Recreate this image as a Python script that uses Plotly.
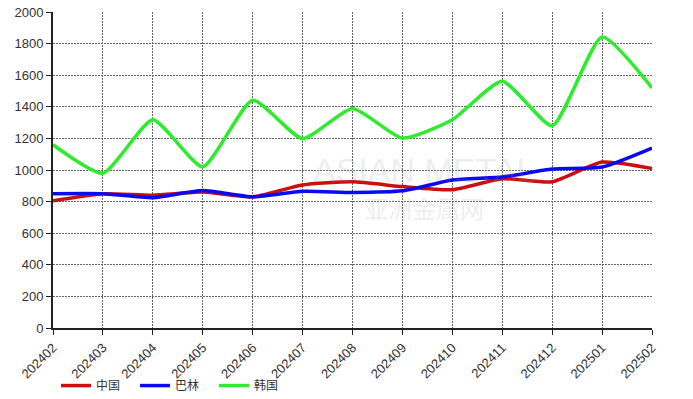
import plotly.graph_objects as go

months = ["202402", "202403", "202404", "202405", "202406", "202407", "202408",
          "202409", "202410", "202411", "202412", "202501", "202502"]
china = [805, 850, 840, 860, 830, 905, 925, 895, 875, 945, 925, 1050, 1010]
bahrain = [850, 850, 825, 870, 830, 865, 858, 868, 937, 956, 1006, 1019, 1139]
korea = [1160, 980, 1318, 1020, 1442, 1198, 1390, 1202, 1318, 1562, 1280, 1842, 1520]

series = [("中国", china, "#CC0E0E"), ("巴林", bahrain, "#0A0AF0"), ("韩国", korea, "#2EEB2E")]

fig = go.Figure()
for name, vals, col in series:
    fig.add_trace(go.Scatter(
        x=list(range(len(months))), y=vals, name=name, mode="lines",
        line=dict(color=col, width=3.5, shape="spline", smoothing=0.55),
    ))

# watermark
fig.add_annotation(x=0.62, y=0.5, xref="paper", yref="paper", text="ASIAN METAL",
                   showarrow=False, font=dict(size=34, color="rgba(150,150,150,0.18)",
                                              family="Liberation Sans"))
fig.add_annotation(x=0.62, y=0.38, xref="paper", yref="paper", text="亚洲金属网",
                   showarrow=False, font=dict(size=24, color="rgba(150,150,150,0.18)",
                                              family="Noto Sans CJK SC"))

axis_font = dict(family="Liberation Sans, Arial", size=13, color="#333333")
grid_dash = "2px,1px"
fig.update_layout(
    width=693, height=399,
    margin=dict(l=53, r=41, t=12, b=71, autoexpand=False),
    paper_bgcolor="white", plot_bgcolor="white",
    showlegend=True,
    legend=dict(orientation="h", x=0.005, xanchor="left", y=0.07, yanchor="top",
                yref="container",
                font=dict(family="Noto Sans CJK SC", size=12, color="#333333"),
                entrywidth=34, entrywidthmode="pixels", itemwidth=30,
                bgcolor="rgba(0,0,0,0)"),
    xaxis=dict(
        tickmode="array", tickvals=list(range(len(months))), ticktext=months,
        range=[0, len(months) - 1], tickangle=-45, tickfont=axis_font,
        showgrid=True, gridcolor="#666666", griddash=grid_dash, gridwidth=1,
        showline=True, linecolor="#222222", linewidth=2, automargin=False,
        ticks="outside", ticklen=5, tickcolor="#222222", zeroline=False,
    ),
    yaxis=dict(
        range=[0, 2000], tickmode="linear", dtick=200, tickfont=axis_font,
        showgrid=True, gridcolor="#666666", griddash=grid_dash, gridwidth=1,
        showline=True, linecolor="#222222", linewidth=2, automargin=False,
        ticks="outside", ticklen=5, tickcolor="#222222", zeroline=False,
    ),
)
fig.write_html("out.html", config={"displayModeBar": False},
               post_script="document.body.style.margin='0';document.body.style.overflow='hidden';")
